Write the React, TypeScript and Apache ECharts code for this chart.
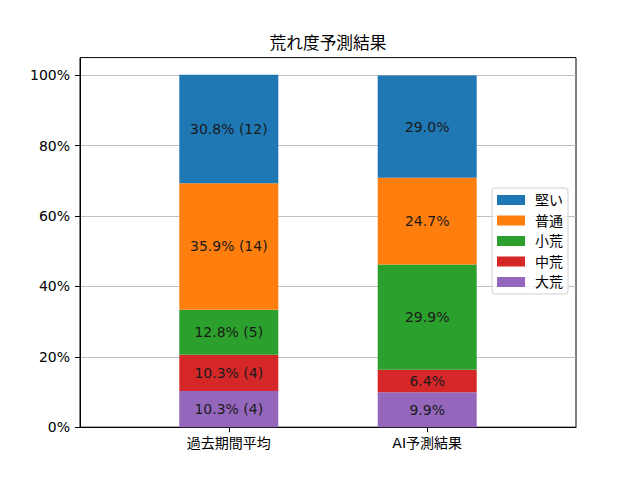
import React, { useEffect, useRef } from "react";
import * as echarts from "echarts";

const categories = ["過去期間平均", "AI予測結果"];
const seriesNames = ["大荒", "中荒", "小荒", "普通", "堅い"];
const daiare = [10.3, 9.9];
const chuare = [10.3, 6.4];
const shoare = [12.8, 29.9];
const futsu = [35.9, 24.7];
const katai = [30.8, 29.0];
const pastCounts = [4, 4, 5, 14, 12];
const yTicks = [0, 20, 40, 60, 80, 100];
const legendOrder = ["堅い", "普通", "小荒", "中荒", "大荒"];
const colors = ["#9467bd", "#d62728", "#2ca02c", "#ff7f0e", "#1f77b4"];
const titleText = "荒れ度予測結果";

const FONT = "'DejaVu Sans', 'Noto Sans CJK JP', sans-serif";

export default function App() {
  const ref = useRef<HTMLDivElement>(null);
  useEffect(() => {
    if (!ref.current) return;
    const chart = echarts.init(ref.current, undefined, { renderer: "svg" });
    const values = [daiare, chuare, shoare, futsu, katai];
    const series = seriesNames.map((name, i) => ({
      name,
      type: "bar",
      stack: "total",
      xAxisIndex: 1,
      yAxisIndex: 1,
      barWidth: 99,
      itemStyle: { color: colors[i] },
      label: {
        show: true,
        position: "inside",
        color: "#1a1a1a",
        fontSize: 14,
        fontFamily: FONT,
        formatter: (p: any) => {
          const v = p.value as number;
          return p.dataIndex === 0
            ? `${v.toFixed(1)}% (${pastCounts[i]})`
            : `${v.toFixed(1)}%`;
        },
      },
      data: values[i],
    }));
    chart.setOption({
      animation: false,
      textStyle: { fontFamily: FONT },
      title: {
        text: titleText,
        left: 328,
        top: 35,
        padding: 0,
        textAlign: "center",
        textStyle: { fontSize: 16.7, fontWeight: "normal", color: "#000", fontFamily: FONT },
      },
      legend: {
        orient: "vertical",
        left: 492,
        top: 188,
        data: legendOrder,
        icon: "rect",
        itemWidth: 28,
        itemHeight: 10,
        itemGap: 6.5,
        padding: [5, 5, 5, 5],
        borderColor: "#d0d0d0",
        borderWidth: 1,
        borderRadius: 3,
        backgroundColor: "rgba(255,255,255,0.8)",
        textStyle: { fontSize: 14, lineHeight: 14, color: "#000", fontFamily: FONT, padding: [0, 0, 0, 5] },
      },
      grid: [
        {
          left: 80,
          right: 64,
          top: 57.6,
          bottom: 52.8,
          show: true,
          borderColor: "#000",
          borderWidth: 1,
        },
        {
          left: 129.6,
          right: 113.6,
          top: 57.6,
          bottom: 52.8,
          show: false,
        },
      ],
      xAxis: [
        {
          gridIndex: 0,
          type: "value",
          min: 0,
          max: 1,
          show: true,
          splitLine: { show: false },
          axisLine: { show: true, lineStyle: { color: "#000" } },
          axisTick: { show: false },
          axisLabel: { show: false },
        },
        {
          gridIndex: 1,
          type: "category",
          data: categories,
          axisLine: { show: false },
          axisTick: { show: true, alignWithLabel: true, length: 5, lineStyle: { color: "#000" } },
          axisLabel: { margin: 9, fontSize: 14, color: "#000", fontFamily: FONT },
          splitLine: { show: false },
        },
      ],
      yAxis: [
        {
          gridIndex: 0,
          type: "value",
          min: 0,
          max: 105,
          interval: 20,
          axisLine: { show: true, lineStyle: { color: "#000" } },
          axisTick: { show: true, customValues: yTicks, length: 5, lineStyle: { color: "#000" } },
          axisLabel: {
            customValues: yTicks,
            margin: 10,
            fontSize: 14,
            color: "#000",
            fontFamily: FONT,
            formatter: (v: number) => (v > 100 ? "" : `${v}%`),
          },
          splitLine: { show: true, lineStyle: { color: "#b0b0b0", width: 0.8 } },
        },
        {
          gridIndex: 1,
          type: "value",
          min: 0,
          max: 105,
          show: false,
          splitLine: { show: false },
        },
      ],
      series,
    });
    return () => chart.dispose();
  }, []);
  return (
    <div
      ref={ref}
      style={{ position: "fixed", left: 0, top: 0, width: 640, height: 480, background: "#fff" }}
    />
  );
}
